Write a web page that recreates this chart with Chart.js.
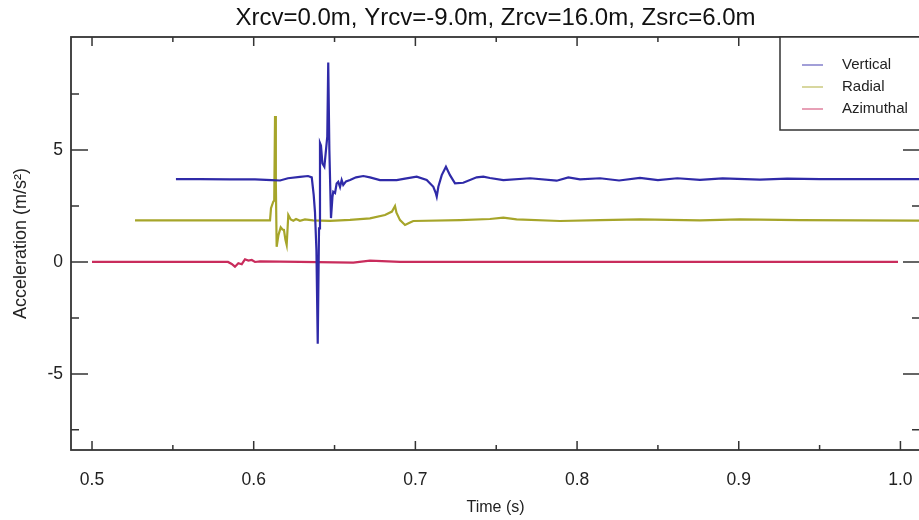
<!DOCTYPE html>
<html>
<head>
<meta charset="utf-8">
<title>Acceleration traces</title>
<script src="https://cdn.jsdelivr.net/npm/chart.js@4.4.0/dist/chart.umd.min.js"></script>
<style>
    html, body { margin: 0; padding: 0; background: #fff; overflow: hidden; }
    #wrap { width: 922px; height: 520px; }
</style>
</head>
<body>
<div id="wrap"><canvas id="accelChart" width="922" height="520"></canvas></div>
<script>
// --- Data ---
const TITLE = 'Xrcv=0.0m, Yrcv=-9.0m, Zrcv=16.0m, Zsrc=6.0m';
const X_TICKS = [0.5, 0.6, 0.7, 0.8, 0.9, 1.0];
const X_MINOR = [0.55, 0.65, 0.75, 0.85, 0.95];
const Y_TICKS = [-5, 0, 5];
const Y_MINOR = [-7.5, -2.5, 2.5, 7.5];

const verticalTime = [
    0.5519, 0.5668, 0.5853, 0.6008, 0.6111, 0.6163, 0.6212, 0.6286, 0.6336, 0.6359,
    0.6371, 0.6379, 0.6388, 0.6396, 0.6404, 0.6410, 0.6416, 0.6425, 0.6437, 0.6447,
    0.6455, 0.6461, 0.6468, 0.6478, 0.6487, 0.6492, 0.6503, 0.6513, 0.6523, 0.6534,
    0.6544, 0.6554, 0.6571, 0.6596, 0.6633, 0.6678, 0.6719, 0.6781, 0.6884, 0.6936,
    0.7008, 0.7070, 0.7111, 0.7125, 0.7132, 0.7142, 0.7163, 0.7189, 0.7214, 0.7245,
    0.7296, 0.7379, 0.7420, 0.7461, 0.7544, 0.7709, 0.7874, 0.7946, 0.8018, 0.8142,
    0.8260, 0.8389, 0.8500, 0.8620, 0.8760, 0.8900, 0.9131, 0.9300, 0.9502, 0.9700,
    0.9873, 1.0121
];
const verticalAcc = [
    3.70, 3.70, 3.69, 3.69, 3.66, 3.64, 3.74, 3.80, 3.84, 3.78,
    3.00, 2.23, 0.50, -3.65, 1.50, 5.31, 5.20, 4.40, 4.25, 5.00,
    5.60, 8.91, 5.00, 1.96, 2.90, 3.14, 3.08, 3.50, 3.58, 3.35,
    3.66, 3.44, 3.60, 3.66, 3.78, 3.84, 3.78, 3.66, 3.66, 3.72,
    3.81, 3.66, 3.36, 3.10, 2.92, 3.36, 3.88, 4.25, 3.88, 3.51,
    3.54, 3.78, 3.81, 3.75, 3.66, 3.74, 3.63, 3.78, 3.69, 3.74,
    3.64, 3.76, 3.66, 3.74, 3.67, 3.73, 3.68, 3.72, 3.70, 3.70,
    3.70, 3.70
];

const radialTime = [
    0.5266, 0.5668, 0.6101, 0.6107, 0.6121, 0.6127, 0.6132, 0.6137, 0.6142, 0.6153,
    0.6167, 0.6178, 0.6187, 0.6196, 0.6204, 0.6214, 0.6229, 0.6245, 0.6262, 0.6286,
    0.6317, 0.6367, 0.6472, 0.6596, 0.6719, 0.6812, 0.6855, 0.6874, 0.6883, 0.6905,
    0.6936, 0.6967, 0.6987, 0.7276, 0.7461, 0.7544, 0.7626, 0.7894, 0.8142, 0.8389,
    0.8760, 0.9007, 0.9378, 0.9750, 1.0121
];
const radialAcc = [
    1.86, 1.86, 1.86, 2.40, 2.69, 2.75, 6.52, 3.50, 0.68, 1.20,
    1.55, 1.45, 1.43, 1.00, 0.76, 2.10, 1.90, 1.84, 1.92, 1.84,
    1.90, 1.86, 1.84, 1.88, 1.95, 2.10, 2.25, 2.50, 2.20, 1.87,
    1.65, 1.76, 1.83, 1.87, 1.92, 1.98, 1.90, 1.83, 1.87, 1.90,
    1.86, 1.90, 1.87, 1.86, 1.85
];

const azimuthalTime = [
    0.5000, 0.5841, 0.5864, 0.5884, 0.5905, 0.5926, 0.5946, 0.5967, 0.5988, 0.6008,
    0.6039, 0.6286, 0.6616, 0.6719, 0.6905, 0.9985
];
const azimuthalAcc = [
    0.00, 0.00, -0.09, -0.21, -0.06, -0.10, 0.12, 0.06, 0.09, 0.00,
    0.03, 0.00, -0.03, 0.06, 0.00, 0.00
];

const SERIES_LABELS = ['Vertical', 'Radial', 'Azimuthal'];
const SERIES_COLORS = ['#2f2aa8', '#a6a52a', '#c92c5c'];

// --- Helpers ---
const toPoints = (xs, ys) => xs.map((x, i) => ({ x: x, y: ys[i] }));
const FONT = 'Liberation Sans, Arial, Helvetica, sans-serif';

// frame, inward ticks and boxed legend
const framePlugin = {
    id: 'frame',
    afterDraw(chart) {
        const { ctx, chartArea: a, scales } = chart;
        const xs = scales.x, ys = scales.y;
        ctx.save();
        ctx.strokeStyle = '#333';
        ctx.lineWidth = 1.8;
        ctx.strokeRect(a.left, a.top, a.right - a.left, a.bottom - a.top);

        ctx.lineWidth = 1.5;
        ctx.beginPath();
        const xTick = (v, len) => {
            const p = xs.getPixelForValue(v);
            ctx.moveTo(p, a.bottom); ctx.lineTo(p, a.bottom - len);
            ctx.moveTo(p, a.top); ctx.lineTo(p, a.top + len);
        };
        const yTick = (v, len) => {
            const p = ys.getPixelForValue(v);
            ctx.moveTo(a.left, p); ctx.lineTo(a.left + len, p);
            ctx.moveTo(a.right, p); ctx.lineTo(a.right - len, p);
        };
        X_TICKS.forEach(v => xTick(v, 9));
        X_MINOR.forEach(v => xTick(v, 5));
        Y_TICKS.forEach(v => yTick(v, 17));
        Y_MINOR.forEach(v => yTick(v, 8));
        ctx.stroke();

        // legend box in the top right corner
        const bx = 780, by = a.top, bh = 93;
        ctx.fillStyle = '#fff';
        ctx.fillRect(bx, by, a.right - bx, bh);
        ctx.strokeStyle = '#333';
        ctx.lineWidth = 1.5;
        ctx.strokeRect(bx, by, a.right - bx, bh);
        ctx.font = '15px ' + FONT;
        ctx.textBaseline = 'middle';
        chart.data.datasets.forEach((ds, i) => {
            const y = by + 28 + i * 22;
            ctx.strokeStyle = ds.borderColor;
            ctx.globalAlpha = 0.6;
            ctx.lineWidth = 1.5;
            ctx.beginPath();
            ctx.moveTo(bx + 22, y); ctx.lineTo(bx + 43, y);
            ctx.stroke();
            ctx.globalAlpha = 1;
            ctx.fillStyle = '#222';
            ctx.fillText(ds.label, bx + 62, y);
        });
        ctx.restore();
    }
};

const datasets = [
    toPoints(verticalTime, verticalAcc),
    toPoints(radialTime, radialAcc),
    toPoints(azimuthalTime, azimuthalAcc)
].map((pts, i) => ({
    label: SERIES_LABELS[i],
    data: pts,
    borderColor: SERIES_COLORS[i],
    borderWidth: 2.2,
    pointRadius: 0,
    tension: 0
}));

new Chart(document.getElementById('accelChart').getContext('2d'), {
    type: 'line',
    data: { datasets: datasets },
    options: {
        responsive: false,
        animation: false,
        layout: { padding: { top: 0, right: 2, bottom: 0, left: 0 } },
        plugins: {
            legend: { display: false },
            tooltip: { enabled: false },
            title: {
                display: true,
                text: TITLE,
                fullSize: false,
                color: '#111',
                font: { family: FONT, size: 24, weight: 'normal' },
                padding: { top: 3.9, bottom: 4.3 }
            }
        },
        scales: {
            x: {
                type: 'linear',
                min: 0.487,
                max: 1.0121,
                afterBuildTicks: s => { s.ticks = X_TICKS.map(v => ({ value: v })); },
                afterFit: s => { s.height = 70; s.paddingLeft = 0; s.paddingRight = 0; },
                grid: { display: false, drawTicks: false },
                border: { display: false },
                ticks: {
                    padding: 20,
                    color: '#222',
                    autoSkip: false,
                    maxRotation: 0,
                    font: { family: FONT, size: 17.5 },
                    callback: v => Number(v).toFixed(1)
                },
                title: {
                    display: true,
                    text: 'Time (s)',
                    color: '#222',
                    font: { family: FONT, size: 16 },
                    padding: { top: 0, bottom: 3 }
                }
            },
            y: {
                type: 'linear',
                min: -8.4,
                max: 10.05,
                afterBuildTicks: s => { s.ticks = Y_TICKS.map(v => ({ value: v })); },
                afterFit: s => { s.width = 71; s.paddingTop = 0; s.paddingBottom = 0; },
                grid: { display: false, drawTicks: false },
                border: { display: false },
                ticks: {
                    padding: 8,
                    color: '#222',
                    font: { family: FONT, size: 17.5 },
                    callback: v => String(v)
                },
                title: {
                    display: true,
                    text: 'Acceleration (m/s²)',
                    color: '#222',
                    font: { family: FONT, size: 18 },
                    padding: { top: 10, bottom: 0 }
                }
            }
        }
    },
    plugins: [framePlugin]
});
</script>
</body>
</html>
